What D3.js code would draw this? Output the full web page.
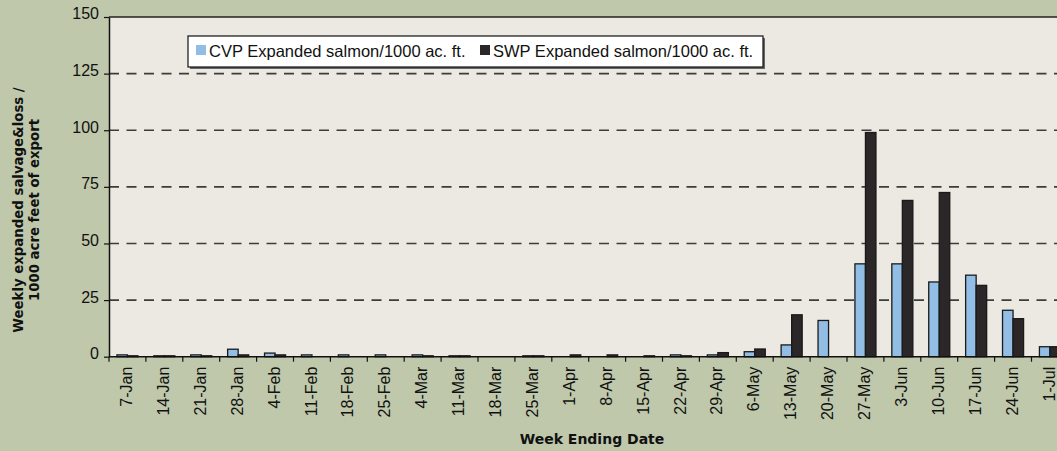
<!DOCTYPE html>
<html>
<head>
<meta charset="utf-8">
<script src="https://cdn.jsdelivr.net/npm/d3@7"></script>
<style>
  html, body { margin: 0; padding: 0; background: #BFC8AB; overflow: hidden; }
  svg { display: block; }
</style>
</head>
<body>
<svg id="chart" width="1057" height="451"></svg>
<script>
// Week-ending dates on the category axis
const weeks = ["7-Jan","14-Jan","21-Jan","28-Jan","4-Feb","11-Feb","18-Feb","25-Feb","4-Mar","11-Mar",
  "18-Mar","25-Mar","1-Apr","8-Apr","15-Apr","22-Apr","29-Apr","6-May","13-May","20-May",
  "27-May","3-Jun","10-Jun","17-Jun","24-Jun","1-Jul"];

// Expanded salmon salvage & loss per 1000 acre-feet exported
const cvpValues = [0.8,0.4,0.8,3.3,1.6,0.8,0.8,0.8,0.8,0.4,0,0.4,0,0,0,0.8,0.8,2.2,5.2,16,41,41,33,36,20.5,4.4];
const swpValues = [0.4,0.4,0.4,0.8,0.8,0,0,0,0.4,0.4,0,0.4,0.8,0.8,0.4,0.4,1.8,3.4,18.5,0,99,69,72.5,31.5,16.8,4.4];

const seriesNames = ["CVP Expanded salmon/1000 ac. ft.", "SWP Expanded salmon/1000 ac. ft."];
const seriesKeys = ["CVP", "SWP"];
const seriesColors = ["#92BEE6", "#2B2627"];

const yTicks = [0, 25, 50, 75, 100, 125, 150];

const rows = weeks.map((w, i) => ({ week: w, CVP: cvpValues[i], SWP: swpValues[i] }));

const svg = d3.select("#chart");
const plotLeft = 109, plotTop = 17, plotBottom = 356.7;
const step = 36.9;
const plotRight = plotLeft + step * weeks.length;

const x0 = d3.scaleBand().domain(weeks).range([plotLeft, plotRight]).padding(0);
const pairFrac = 0.57;
const bw = x0.bandwidth();
const x1 = d3.scaleBand().domain(seriesKeys)
  .range([bw * (1 - pairFrac) / 2, bw * (1 + pairFrac) / 2]).padding(0);
const y = d3.scaleLinear().domain([0, 150]).range([plotBottom, plotTop]);

// Plot area
svg.append("rect")
  .attr("x", plotLeft).attr("y", plotTop)
  .attr("width", plotRight - plotLeft).attr("height", plotBottom - plotTop)
  .attr("fill", "#ECE9E2");

// Dashed gridlines
svg.append("g").selectAll("line")
  .data(yTicks.filter(t => t > 0 && t < 150))
  .join("line")
  .attr("x1", plotLeft).attr("x2", plotRight)
  .attr("y1", d => y(d)).attr("y2", d => y(d))
  .attr("stroke", "#3c3c3c").attr("stroke-width", 1.6)
  .attr("stroke-dasharray", "10,7.5");

// Top frame line
svg.append("line")
  .attr("x1", plotLeft).attr("x2", plotRight)
  .attr("y1", y(150)).attr("y2", y(150))
  .attr("stroke", "#222").attr("stroke-width", 1.5);

// Bars
const groups = svg.append("g").selectAll("g")
  .data(rows).join("g")
  .attr("transform", d => `translate(${x0(d.week)},0)`);

groups.selectAll("rect")
  .data(d => seriesKeys.map((k, i) => ({ key: k, value: d[k], color: seriesColors[i] })).filter(b => b.value > 0))
  .join("rect")
  .attr("x", d => x1(d.key))
  .attr("width", x1.bandwidth())
  .attr("y", d => y(d.value))
  .attr("height", d => y(0) - y(d.value))
  .attr("fill", d => d.color)
  .attr("stroke", "#1a1a1a").attr("stroke-width", 1.3);

// Y axis
const yAxis = svg.append("g")
  .attr("transform", `translate(${plotLeft},0)`)
  .call(d3.axisLeft(y).tickValues(yTicks).tickSize(5).tickPadding(5).tickSizeOuter(0));
yAxis.select(".domain").attr("stroke", "#111").attr("stroke-width", 1.5);
yAxis.selectAll(".tick line").attr("stroke", "#111").attr("stroke-width", 1.2);
yAxis.selectAll(".tick text")
  .attr("font-family", "'Liberation Sans', Arial, sans-serif")
  .attr("font-size", 16).attr("fill", "#111").attr("dy", "0.12em");

// X axis: ticks on category boundaries
const xAxisG = svg.append("g");
xAxisG.append("line")
  .attr("x1", plotLeft).attr("x2", plotRight)
  .attr("y1", plotBottom).attr("y2", plotBottom)
  .attr("stroke", "#111").attr("stroke-width", 1.5);
xAxisG.selectAll("line.tk")
  .data(weeks.map((w, i) => i).concat([weeks.length]))
  .join("line").attr("class", "tk")
  .attr("x1", i => plotLeft + i * bw).attr("x2", i => plotLeft + i * bw)
  .attr("y1", plotBottom).attr("y2", plotBottom + 5)
  .attr("stroke", "#111").attr("stroke-width", 1.2);
xAxisG.selectAll("text")
  .data(weeks).join("text")
  .attr("transform", d => `translate(${x0(d) + bw / 2 - 1},${plotBottom + 10}) rotate(-90)`)
  .attr("text-anchor", "end")
  .attr("dy", "0.35em")
  .attr("font-family", "'Liberation Sans', Arial, sans-serif")
  .attr("font-size", 16).attr("fill", "#111")
  .text(d => d);

// Axis titles
svg.append("text")
  .attr("x", 592).attr("y", 444)
  .attr("text-anchor", "middle")
  .attr("font-family", "'DejaVu Sans', sans-serif")
  .attr("font-weight", "bold").attr("font-size", 14).attr("fill", "#111")
  .text("Week Ending Date");

const yTitle = svg.append("text")
  .attr("transform", "translate(27,210) rotate(-90)")
  .attr("text-anchor", "middle")
  .attr("font-family", "'DejaVu Sans', sans-serif")
  .attr("font-weight", "bold").attr("font-size", 13.3).attr("fill", "#111");
yTitle.append("tspan").attr("x", 0).attr("dy", "-0.28em").text("Weekly expanded salvage&loss /");
yTitle.append("tspan").attr("x", 0).attr("dy", "1.2em").text("1000 acre feet of export");

// Legend
const lg = svg.append("g");
lg.append("rect")
  .attr("x", 190).attr("y", 38).attr("width", 575).attr("height", 31)
  .attr("fill", "#666");
lg.append("rect")
  .attr("x", 188).attr("y", 36).attr("width", 575).attr("height", 31)
  .attr("fill", "#fff").attr("stroke", "#111").attr("stroke-width", 1.2);
const legendX = [196, 480];
seriesNames.forEach((name, i) => {
  lg.append("rect")
    .attr("x", legendX[i]).attr("y", 45).attr("width", 10).attr("height", 10)
    .attr("fill", seriesColors[i]);
  lg.append("text")
    .attr("x", legendX[i] + 13).attr("y", 56.5)
    .attr("font-family", "'Liberation Sans', Arial, sans-serif")
    .attr("font-size", 16.5).attr("fill", "#111")
    .text(name);
});
</script>
</body>
</html>
